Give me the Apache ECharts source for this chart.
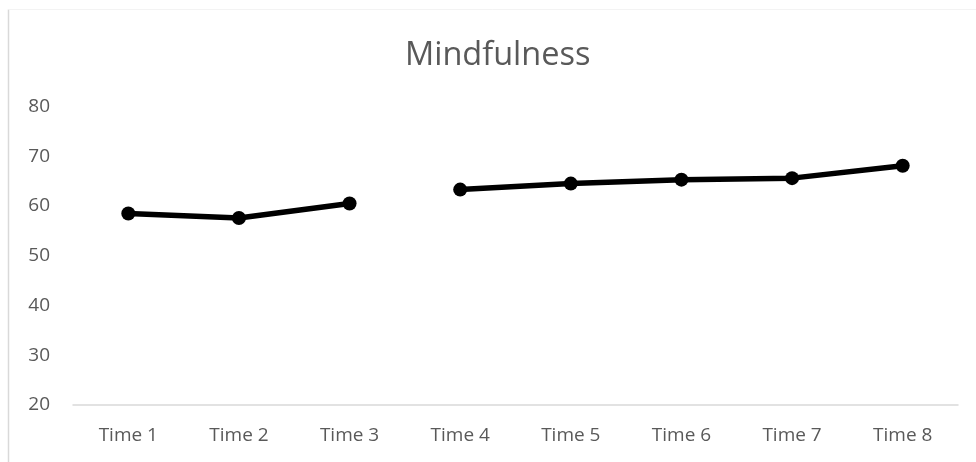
<!DOCTYPE html>
<html>
<head>
<meta charset="utf-8">
<script src="https://cdn.jsdelivr.net/npm/echarts@6/dist/echarts.min.js"></script>
<style>
  html, body { margin: 0; padding: 0; background: #fff; }
  #chart { width: 976px; height: 462px; }
</style>
</head>
<body>
<div id="chart"></div>
<script>
// Mindfulness scores across eight measurement times
const categories = ['Time 1', 'Time 2', 'Time 3', 'Time 4', 'Time 5', 'Time 6', 'Time 7', 'Time 8'];
// first phase (Time 1–3) and second phase (Time 4–8), drawn as separate segments
const phaseOne = [58.5, 57.6, 60.5, null, null, null, null, null];
const phaseTwo = [null, null, null, 63.3, 64.5, 65.3, 65.6, 68.1];
const yTicks = { min: 20, max: 80, interval: 10 };

const chart = echarts.init(document.getElementById('chart'), null, { renderer: 'canvas' });

const lineSeries = (name, data) => ({
  name,
  type: 'line',
  data,
  symbol: 'circle',
  symbolSize: 14,
  connectNulls: false,
  lineStyle: { color: '#000', width: 5.5 },
  itemStyle: { color: '#000' },
  emphasis: { disabled: true },
  animation: false
});

chart.setOption({
  backgroundColor: '#fff',
  title: {
    text: 'Mindfulness',
    left: 400,
    top: 34,
    textStyle: {
      fontFamily: 'Open Sans',
      fontSize: 32.5,
      fontWeight: 'normal',
      color: '#595959'
    }
  },
  graphic: [
    {
      // chart-area frame: left edge and faint top edge
      type: 'line',
      shape: { x1: 8.5, y1: 9.5, x2: 8.5, y2: 462 },
      style: { stroke: '#d9d9d9', lineWidth: 1.5 },
      silent: true
    },
    {
      type: 'line',
      shape: { x1: 8.5, y1: 9.5, x2: 976, y2: 9.5 },
      style: { stroke: '#f3f3f3', lineWidth: 1 },
      silent: true
    }
  ],
  grid: { left: 73, right: 18, top: 106.5, bottom: 57 },
  xAxis: {
    type: 'category',
    data: categories,
    boundaryGap: true,
    axisLine: { lineStyle: { color: '#d9d9d9', width: 1.5 } },
    axisTick: { show: false },
    axisLabel: {
      color: '#595959',
      fontFamily: 'Open Sans',
      fontSize: 19,
      margin: 21
    }
  },
  yAxis: {
    type: 'value',
    min: yTicks.min,
    max: yTicks.max,
    interval: yTicks.interval,
    axisLine: { show: false },
    axisTick: { show: false },
    splitLine: { show: false },
    axisLabel: {
      color: '#595959',
      fontFamily: 'Open Sans',
      fontSize: 19,
      margin: 23
    }
  },
  series: [
    lineSeries('Time 1–3', phaseOne),
    lineSeries('Time 4–8', phaseTwo)
  ]
});
</script>
</body>
</html>
